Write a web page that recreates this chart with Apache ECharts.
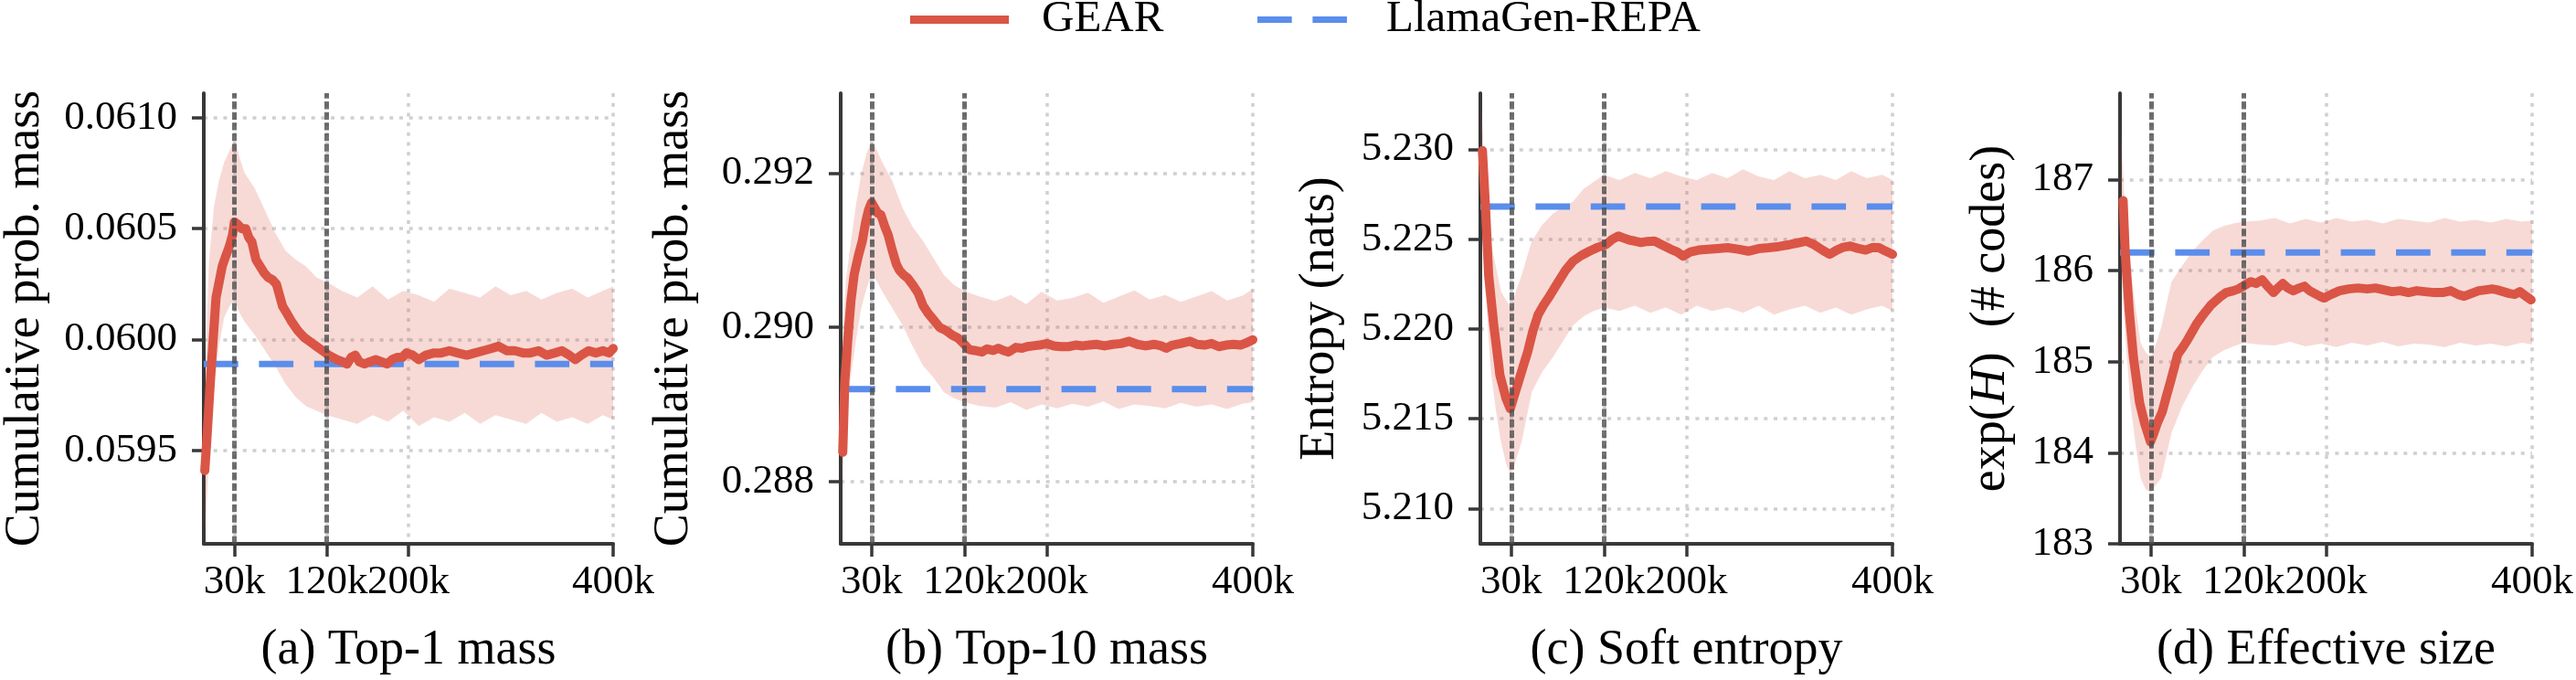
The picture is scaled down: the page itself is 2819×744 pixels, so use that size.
<!DOCTYPE html>
<html>
<head>
<meta charset="utf-8">
<script src="https://cdn.jsdelivr.net/npm/echarts@6/dist/echarts.min.js"></script>
<style>
  html, body { margin: 0; padding: 0; background: #fff; }
  #main { width: 2819px; height: 744px; }
</style>
</head>
<body>
<div id="main"></div>
<script>
// training steps are in thousands (k)
var xTicks = [30, 120, 200, 400];
var markSteps = [30, 120];

// noisy raw trace, read as a lower / upper envelope
var bandSteps = [1, 5, 10, 15, 20, 25, 30, 35, 40, 50, 60, 70, 80, 90, 100, 110, 120, 135, 150, 165, 180, 195, 210, 225, 240, 255, 270, 285, 300, 315, 330, 345, 360, 375, 390, 400];
var bandUpA = [0.05975, 0.06035, 0.06060, 0.06072, 0.06080, 0.06085, 0.06090, 0.06082, 0.06075, 0.06068, 0.06058, 0.06048, 0.06040, 0.06036, 0.06033, 0.06028, 0.06026, 0.06022, 0.06019, 0.06024, 0.06018, 0.06022, 0.06020, 0.06017, 0.06023, 0.06021, 0.06019, 0.06024, 0.06020, 0.06022, 0.06018, 0.06021, 0.06023, 0.06019, 0.06022, 0.06024];
var bandLoA = [0.05912, 0.05945, 0.05980, 0.05998, 0.06010, 0.06015, 0.06018, 0.06012, 0.06008, 0.06002, 0.05995, 0.05988, 0.05980, 0.05974, 0.05970, 0.05968, 0.05966, 0.05964, 0.05962, 0.05966, 0.05963, 0.05968, 0.05961, 0.05965, 0.05963, 0.05967, 0.05962, 0.05966, 0.05964, 0.05962, 0.05967, 0.05963, 0.05965, 0.05962, 0.05966, 0.05964];
var bandUpB = [0.28960, 0.29060, 0.29112, 0.29160, 0.29199, 0.29225, 0.29242, 0.29230, 0.29215, 0.29190, 0.29155, 0.29130, 0.29112, 0.29090, 0.29068, 0.29055, 0.29047, 0.29040, 0.29034, 0.29042, 0.29030, 0.29046, 0.29035, 0.29038, 0.29045, 0.29032, 0.29040, 0.29048, 0.29036, 0.29042, 0.29033, 0.29040, 0.29047, 0.29035, 0.29041, 0.29050];
var bandLoB = [0.28800, 0.28880, 0.28938, 0.28985, 0.29025, 0.29050, 0.29068, 0.29060, 0.29047, 0.29025, 0.29003, 0.28975, 0.28950, 0.28935, 0.28916, 0.28908, 0.28903, 0.28898, 0.28896, 0.28903, 0.28893, 0.28900, 0.28895, 0.28901, 0.28897, 0.28904, 0.28894, 0.28900, 0.28898, 0.28895, 0.28902, 0.28897, 0.28900, 0.28894, 0.28901, 0.28903];
var bandUpC = [5.2324, 5.2280, 5.2249, 5.2235, 5.2221, 5.2216, 5.2212, 5.2222, 5.2230, 5.2249, 5.2258, 5.2264, 5.2268, 5.2271, 5.2278, 5.2282, 5.2286, 5.2283, 5.2287, 5.2284, 5.2288, 5.2285, 5.2283, 5.2287, 5.2284, 5.2289, 5.2285, 5.2283, 5.2288, 5.2284, 5.2286, 5.2283, 5.2288, 5.2284, 5.2286, 5.2283];
var bandLoC = [5.2262, 5.2220, 5.2178, 5.2155, 5.2137, 5.2125, 5.2118, 5.2128, 5.2137, 5.2165, 5.2176, 5.2184, 5.2193, 5.2202, 5.2207, 5.2210, 5.2212, 5.2210, 5.2213, 5.2209, 5.2212, 5.2208, 5.2213, 5.2210, 5.2212, 5.2209, 5.2213, 5.2208, 5.2211, 5.2213, 5.2209, 5.2212, 5.2208, 5.2211, 5.2213, 5.2210];
var bandUpD = [187.54, 186.60, 186.04, 185.60, 185.21, 185.10, 185.05, 185.20, 185.38, 185.88, 186.05, 186.21, 186.33, 186.44, 186.49, 186.52, 186.54, 186.55, 186.58, 186.52, 186.57, 186.53, 186.58, 186.54, 186.56, 186.52, 186.57, 186.55, 186.53, 186.58, 186.54, 186.56, 186.53, 186.57, 186.54, 186.55];
var bandLoD = [186.04, 185.30, 184.55, 184.10, 183.72, 183.60, 183.56, 183.65, 183.72, 184.22, 184.50, 184.72, 184.90, 185.05, 185.12, 185.17, 185.21, 185.19, 185.18, 185.22, 185.17, 185.20, 185.16, 185.21, 185.18, 185.22, 185.17, 185.20, 185.19, 185.16, 185.21, 185.18, 185.20, 185.17, 185.21, 185.19];

// GEAR smoothed curves
var gearStepsA = [1, 3, 6, 9, 12, 15, 18, 21, 25, 28, 30, 33, 37, 41, 44, 47, 51, 55, 59, 63, 67, 71, 74, 77, 81, 86, 92, 98, 104, 110, 116, 122, 130, 136, 140, 144, 148, 152, 157, 162, 168, 174, 179, 184, 189, 194, 198, 204, 210, 217, 225, 232, 240, 248, 257, 265, 273, 281, 288, 296, 304, 312, 319, 327, 335, 343, 350, 357, 363, 369, 376, 383, 390, 396, 400];
var gearA = [0.05941, 0.05955, 0.05978, 0.05999, 0.06019, 0.06026, 0.06033, 0.06037, 0.06042, 0.06047, 0.06053, 0.06052, 0.06050, 0.06050, 0.06046, 0.06044, 0.06036, 0.06033, 0.06030, 0.06028, 0.06027, 0.06025, 0.06020, 0.06015, 0.06012, 0.06008, 0.06004, 0.06001, 0.05999, 0.05997, 0.05995, 0.05993, 0.05991, 0.05990, 0.05989, 0.05992, 0.05993, 0.05990, 0.05989, 0.05990, 0.05991, 0.05990, 0.05989, 0.05991, 0.05992, 0.05992, 0.05994, 0.05993, 0.05991, 0.05993, 0.05994, 0.05994, 0.05995, 0.05994, 0.05993, 0.05994, 0.05995, 0.05996, 0.05997, 0.05995, 0.05995, 0.05994, 0.05994, 0.05995, 0.05993, 0.05994, 0.05995, 0.05993, 0.05991, 0.05993, 0.05995, 0.05994, 0.05995, 0.05994, 0.05996];
var gearStepsB = [2, 4, 7, 10, 13, 17, 21, 24, 27, 30, 33, 36, 39, 43, 46, 50, 54, 57, 61, 65, 70, 75, 80, 85, 90, 96, 102, 108, 114, 120, 125, 130, 137, 142, 148, 153, 158, 163, 170, 176, 181, 187, 193, 200, 207, 214, 221, 228, 235, 241, 248, 256, 264, 272, 280, 288, 296, 304, 311, 316, 322, 330, 339, 346, 353, 360, 367, 374, 381, 388, 394, 400];
var gearB = [0.28838, 0.28930, 0.28986, 0.29035, 0.29068, 0.29092, 0.29112, 0.29135, 0.29152, 0.29162, 0.29155, 0.29148, 0.29146, 0.29130, 0.29120, 0.29100, 0.29082, 0.29074, 0.29068, 0.29064, 0.29055, 0.29045, 0.29028, 0.29018, 0.29010, 0.29000, 0.28996, 0.28990, 0.28986, 0.28978, 0.28971, 0.28970, 0.28968, 0.28972, 0.28970, 0.28973, 0.28970, 0.28968, 0.28974, 0.28973, 0.28975, 0.28976, 0.28977, 0.28979, 0.28976, 0.28975, 0.28975, 0.28977, 0.28976, 0.28977, 0.28978, 0.28976, 0.28978, 0.28979, 0.28982, 0.28978, 0.28976, 0.28978, 0.28976, 0.28973, 0.28977, 0.28979, 0.28982, 0.28978, 0.28977, 0.28979, 0.28975, 0.28977, 0.28978, 0.28977, 0.28980, 0.28984];
var gearStepsC = [2, 5, 8, 13, 19, 25, 29, 33, 37, 42, 46, 51, 56, 61, 66, 71, 76, 83, 90, 98, 106, 114, 122, 128, 134, 140, 145, 150, 156, 162, 169, 176, 185, 191, 197, 204, 212, 221, 230, 240, 250, 260, 270, 280, 290, 300, 308, 316, 324, 332, 339, 346, 352, 359, 366, 374, 381, 387, 393, 400];
var gearC = [5.22994, 5.22677, 5.22303, 5.22023, 5.21743, 5.21612, 5.21556, 5.21630, 5.21706, 5.21800, 5.21874, 5.21990, 5.22079, 5.22130, 5.22173, 5.22220, 5.22266, 5.22330, 5.22378, 5.22410, 5.22434, 5.22455, 5.22471, 5.22500, 5.22518, 5.22505, 5.22495, 5.22490, 5.22482, 5.22488, 5.22490, 5.22470, 5.22444, 5.22430, 5.22406, 5.22430, 5.22440, 5.22444, 5.22448, 5.22453, 5.22445, 5.22434, 5.22448, 5.22453, 5.22460, 5.22470, 5.22480, 5.22490, 5.22470, 5.22440, 5.22416, 5.22440, 5.22455, 5.22462, 5.22450, 5.22440, 5.22455, 5.22453, 5.22435, 5.22416];
var gearStepsD = [3, 5, 9, 13, 19, 24, 29.6, 33, 36, 41, 45, 49, 53, 56, 61, 65, 70, 74, 79, 83, 88, 92, 98, 103, 110, 115, 121, 127, 132, 138, 144, 149, 154, 158, 163, 168, 174, 179, 184, 189, 194, 198, 205, 213, 222, 231, 240, 248, 256, 264, 272, 280, 288, 296, 305, 313, 321, 328, 334, 341, 348, 355, 361, 366, 372, 378, 383, 388, 394, 399];
var gearD = [186.77, 186.21, 185.55, 185.05, 184.55, 184.32, 184.12, 184.22, 184.32, 184.45, 184.62, 184.78, 184.95, 185.08, 185.16, 185.23, 185.33, 185.41, 185.49, 185.55, 185.62, 185.66, 185.72, 185.76, 185.78, 185.80, 185.84, 185.88, 185.86, 185.90, 185.82, 185.76, 185.82, 185.86, 185.81, 185.78, 185.81, 185.83, 185.78, 185.75, 185.72, 185.70, 185.74, 185.78, 185.80, 185.81, 185.80, 185.81, 185.79, 185.77, 185.78, 185.76, 185.78, 185.77, 185.76, 185.76, 185.78, 185.74, 185.72, 185.75, 185.78, 185.79, 185.80, 185.79, 185.77, 185.75, 185.74, 185.77, 185.72, 185.68];

// LlamaGen-REPA reference levels
var baseA = 0.05989, baseB = 0.28920, baseC = 5.22682, baseD = 186.20;

var yTicksA = [0.0595, 0.0600, 0.0605, 0.0610];
var yTicksB = [0.288, 0.290, 0.292];
var yTicksC = [5.210, 5.215, 5.220, 5.225, 5.230];
var yTicksD = [183, 184, 185, 186, 187];

var captions = ['(a) Top-1 mass', '(b) Top-10 mass', '(c) Soft entropy', '(d) Effective size'];
var yNames = ['Cumulative prob. mass', 'Cumulative prob. mass', 'Entropy (nats)', '{n|exp(}{h|H}{n|)  (# codes)}'];

var chart = echarts.init(document.getElementById('main'));
var FONT = 'Liberation Serif';
var RED = '#da5545';
var BLUE = '#5a8dec';

var panels = [
  { up: bandUpA, lo: bandLoA, xs: gearStepsA, ys: gearA, base: baseA, ticks: yTicksA, min: 0.05908, max: 0.06111, dec: 4, gap: 168 },
  { up: bandUpB, lo: bandLoB, xs: gearStepsB, ys: gearB, base: baseB, ticks: yTicksB, min: 0.287193, max: 0.293036, dec: 3, gap: 155 },
  { up: bandUpC, lo: bandLoC, xs: gearStepsC, ys: gearC, base: baseC, ticks: yTicksC, min: 5.20803, max: 5.23314, dec: 3, gap: 148 },
  { up: bandUpD, lo: bandLoD, xs: gearStepsD, ys: gearD, base: baseD, ticks: yTicksD, min: 183, max: 187.95, dec: 0, gap: 114 }
];

function k(v) { return v * 1000; }

function bandShape(params, api) {
  if (params.dataIndexInside !== 0) return null;
  var n = params.dataInsideLength;
  var top = [], bot = [];
  for (var j = 0; j < n; j++) {
    top.push(api.coord([api.value(0, j), api.value(2, j)]));
    bot.unshift(api.coord([api.value(0, j), api.value(1, j)]));
  }
  return {
    type: 'polygon',
    shape: { points: top.concat(bot) },
    style: { fill: 'rgba(218,85,69,0.22)' },
    silent: true
  };
}

var grids = [], xAxes = [], yAxes = [], series = [];
var gridDot = { color: '#cdd0d4', width: 3.5, type: [4, 6.7] };

panels.forEach(function (p, i) {
  grids.push({ left: 220 + 700 * i, top: 102, width: 451, height: 497 });

  xAxes.push({
    gridIndex: i, type: 'value', min: 0, max: 400000,
    name: captions[i], nameLocation: 'middle', nameGap: 90,
    nameTextStyle: { fontSize: 54, fontFamily: FONT, color: '#000' },
    axisLine: { onZero: false, lineStyle: { color: '#383838', width: 4 } },
    axisTick: { customValues: xTicks.map(k), length: 14, lineStyle: { color: '#383838', width: 3.5 } },
    axisLabel: {
      customValues: xTicks.map(k), margin: 20,
      fontSize: 45, fontFamily: FONT, color: '#000',
      formatter: function (v) { return (v / 1000) + 'k'; }
    },
    splitLine: { show: true, lineStyle: gridDot }
  });

  yAxes.push({
    gridIndex: i, type: 'value', min: p.min, max: p.max,
    name: yNames[i], nameLocation: 'middle', nameGap: p.gap,
    nameTextStyle: {
      fontSize: 54, fontFamily: FONT, color: '#000',
      rich: {
        n: { fontSize: 54, fontFamily: FONT, color: '#000' },
        h: { fontSize: 54, fontFamily: FONT, color: '#000', fontStyle: 'italic' }
      }
    },
    axisLine: { show: true, lineStyle: { color: '#383838', width: 4 } },
    axisTick: { show: true, customValues: p.ticks, length: 13, lineStyle: { color: '#383838', width: 3.5 } },
    axisLabel: {
      customValues: p.ticks, margin: 29,
      fontSize: 45, fontFamily: FONT, color: '#000',
      formatter: function (v) { return v.toFixed(p.dec); }
    },
    splitLine: { show: true, lineStyle: gridDot }
  });

  series.push({
    name: 'GEAR raw', type: 'custom', xAxisIndex: i, yAxisIndex: i,
    renderItem: bandShape, encode: { x: 0, y: [1, 2] }, z: 1,
    data: bandSteps.map(function (s, j) { return [k(s), p.lo[j], p.up[j]]; })
  });

  series.push({
    name: 'LlamaGen-REPA', type: 'line', xAxisIndex: i, yAxisIndex: i,
    symbol: 'none', z: 2, silent: true,
    lineStyle: { color: BLUE, width: 7, type: [37.7, 22.7], cap: 'butt' },
    itemStyle: { color: BLUE },
    data: [[0, p.base], [400000, p.base]],
    markLine: {
      silent: true, symbol: 'none', label: { show: false },
      lineStyle: { color: '#4d4d4d', width: 5, type: [8.3, 3.3], opacity: 0.8 },
      data: markSteps.map(function (s) { return { xAxis: k(s) }; })
    }
  });

  series.push({
    name: 'GEAR', type: 'line', xAxisIndex: i, yAxisIndex: i,
    symbol: 'none', z: 3, silent: true,
    lineStyle: { color: RED, width: 10, cap: 'round', join: 'round' },
    itemStyle: { color: RED },
    data: p.xs.map(function (s, j) { return [k(s), p.ys[j]]; })
  });
});

var option = {
  animation: false,
  backgroundColor: '#fff',
  textStyle: { fontFamily: FONT, color: '#000' },
  legend: [
    {
      data: [{ name: 'GEAR', icon: 'path://M0,0H108V9H0Z' }],
      left: 996, top: -3, padding: 0, selectedMode: false,
      itemWidth: 108, itemHeight: 9,
      textStyle: { fontSize: 49, fontFamily: FONT, color: '#000', padding: [0, 0, 0, 31] }
    },
    {
      data: [{ name: 'LlamaGen-REPA', icon: 'path://M0,0H37.7V7H0Z M60.4,0H98V7H60.4Z' }],
      left: 1376, top: -3, padding: 0, selectedMode: false,
      itemWidth: 98, itemHeight: 7,
      textStyle: { fontSize: 49, fontFamily: FONT, color: '#000', padding: [0, 0, 0, 38] }
    }
  ],
  grid: grids,
  xAxis: xAxes,
  yAxis: yAxes,
  series: series
};

chart.setOption(option);
</script>
</body>
</html>
